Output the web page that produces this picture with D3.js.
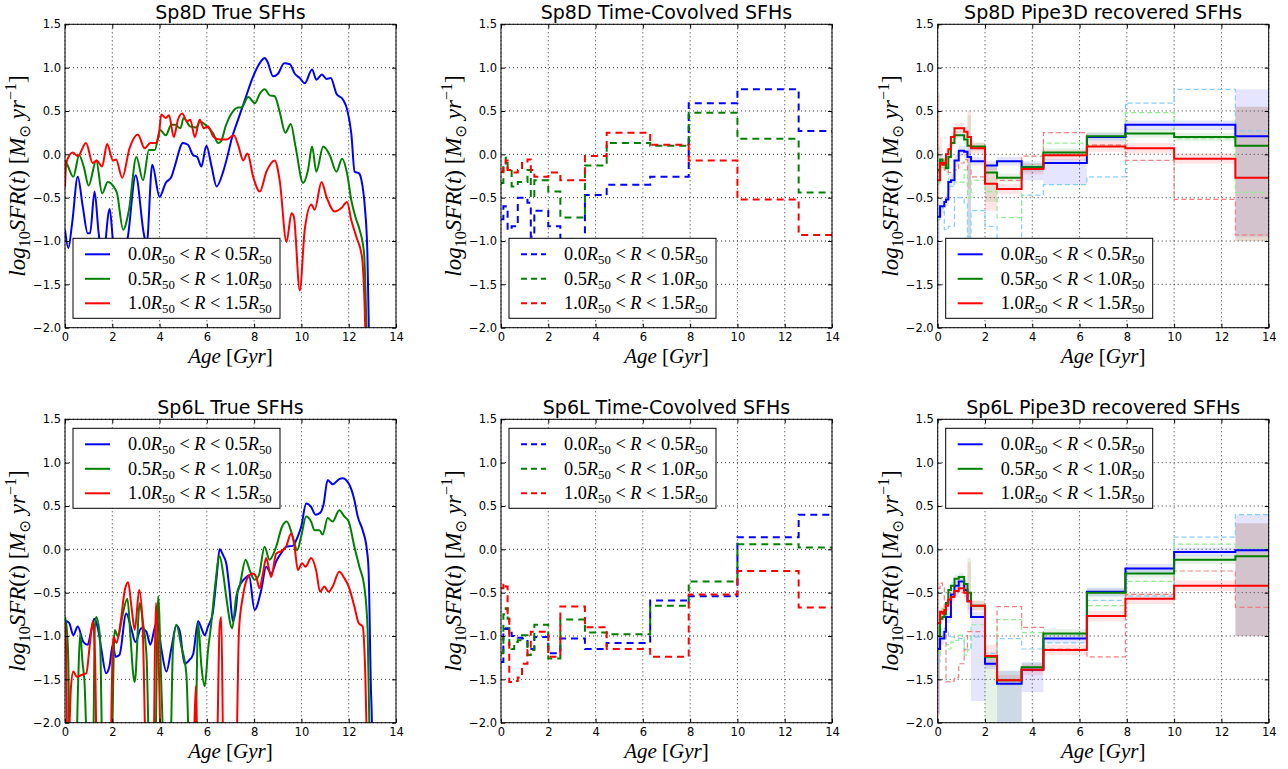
<!DOCTYPE html>
<html>
<head>
<meta charset="utf-8">
<script src="https://cdn.jsdelivr.net/npm/d3@7"></script>
<style>
body { margin: 0; background: #fff; }
text { font-family: "DejaVu Sans", sans-serif; }
.math { font-family: "Liberation Serif", "DejaVu Serif", serif; }
</style>
</head>
<body>
<script>

// ---- true SFHs, [age Gyr, log10 SFR] ----
var sp8dTrueBlue = [[0,-0.87],[0.14,-1.08],[0.3,-0.8],[0.54,-0.26],[0.75,-0.6],[0.96,-0.91],[1.06,-0.91],[1.25,-0.43],[1.42,-0.9],[1.6,-1.2],[1.89,-0.63],[2.03,-1.0],[2.3,-1.35],[2.66,-0.95],[2.99,-0.24],[3.33,-0.91],[3.45,-1.05],[3.69,-0.12],[4.0,-0.49],[4.26,-0.33],[4.5,-0.26],[4.64,-0.14],[4.99,0.13],[5.2,0.11],[5.42,-0.01],[5.59,-0.03],[5.77,-0.14],[5.98,0.10],[6.2,-0.14],[6.41,-0.37],[6.69,-0.2],[6.9,0.01],[7.05,0.18],[7.32,0.40],[7.61,0.63],[7.96,0.90],[8.28,1.07],[8.45,1.11],[8.56,1.07],[8.8,0.90],[9.01,0.93],[9.27,1.05],[9.51,1.04],[9.72,0.93],[9.93,0.88],[10.14,0.82],[10.45,0.98],[10.63,0.86],[10.87,0.92],[11.06,0.87],[11.24,0.88],[11.48,0.70],[11.76,0.63],[11.94,0.51],[12.11,0.24],[12.25,-0.2],[12.44,-0.22],[12.54,-0.3],[12.68,-0.6],[12.79,-1.14],[12.85,-2.0],[12.9,-2.6]];
var sp8dTrueGreen = [[0,-0.07],[0.1,-0.12],[0.35,-0.26],[0.6,-0.01],[0.8,-0.15],[1.0,-0.36],[1.32,-0.07],[1.57,-0.45],[1.81,-0.32],[2.05,-0.37],[2.2,-0.45],[2.46,-0.87],[2.7,-0.65],[3.02,-0.03],[3.3,-0.3],[3.55,0.05],[3.8,0.05],[4.02,0.28],[4.26,0.22],[4.5,0.34],[4.66,0.34],[4.88,0.3],[5.02,0.42],[5.3,0.32],[5.56,0.31],[5.7,0.38],[5.98,0.33],[6.27,0.24],[6.48,0.13],[6.6,0.15],[6.8,0.33],[7.04,0.47],[7.32,0.54],[7.46,0.54],[7.75,0.66],[8.03,0.59],[8.24,0.70],[8.45,0.75],[8.66,0.68],[8.87,0.67],[9.08,0.49],[9.32,0.25],[9.55,0.35],[9.75,0.09],[10.07,-0.33],[10.28,-0.18],[10.45,0.09],[10.63,-0.2],[10.92,0.09],[11.2,-0.01],[11.48,-0.2],[11.72,-0.05],[11.93,-0.22],[12.11,-0.53],[12.28,-0.72],[12.46,-0.87],[12.65,-1.14],[12.75,-2.0],[12.8,-2.6]];
var sp8dTrueRed = [[0,-0.38],[0.05,-0.1],[0.33,0.02],[0.54,-0.02],[0.89,0.13],[1.17,-0.1],[1.34,-0.07],[1.57,-0.14],[1.78,0.12],[2.03,-0.07],[2.16,-0.06],[2.42,-0.27],[2.73,0.07],[3.08,0.23],[3.37,0.07],[3.61,0.13],[3.83,0.13],[3.97,0.22],[4.07,0.46],[4.26,0.42],[4.4,0.45],[4.6,0.20],[4.78,0.40],[4.96,0.47],[5.16,0.38],[5.3,0.40],[5.49,0.20],[5.7,0.40],[5.87,0.30],[6.05,0.32],[6.29,0.20],[6.55,0.17],[6.83,0.17],[7.14,0.22],[7.32,0.11],[7.54,-0.07],[7.72,0.01],[7.96,-0.26],[8.24,-0.43],[8.52,-0.2],[8.87,-0.07],[9.08,-0.3],[9.37,-1.01],[9.58,-0.68],[9.68,-0.72],[9.93,-1.57],[10.14,-0.87],[10.42,-0.58],[10.56,-0.64],[10.85,-0.32],[11.06,-0.49],[11.41,-0.66],[11.69,-0.62],[11.93,-0.55],[12.11,-0.76],[12.32,-0.95],[12.56,-1.18],[12.7,-2.0],[12.75,-2.6]];

var sp6lTrueBlue = [[0,-0.82],[0.18,-0.85],[0.35,-0.99],[0.54,-0.89],[0.78,-1.07],[0.96,-1.1],[1.1,-0.95],[1.24,-0.8],[1.39,-0.91],[1.53,-1.14],[1.74,-1.43],[1.88,-1.35],[2.02,-1.1],[2.14,-1.24],[2.3,-1.22],[2.59,-0.74],[2.8,-0.91],[2.98,-1.07],[3.22,-0.91],[3.44,-0.95],[3.61,-1.1],[3.79,-0.91],[3.9,-0.83],[4.07,-1.14],[4.29,-1.41],[4.5,-1.14],[4.71,-0.88],[4.85,-0.94],[5.06,-1.32],[5.25,-1.28],[5.42,-1.21],[5.63,-0.83],[5.77,-0.91],[5.91,-0.99],[6.05,-0.89],[6.24,-0.75],[6.41,-0.33],[6.54,0.0],[6.69,-0.07],[6.82,-0.16],[6.96,-0.47],[7.1,-0.83],[7.24,-0.66],[7.31,-0.47],[7.67,-0.32],[7.78,-0.3],[8.02,-0.7],[8.3,-0.47],[8.51,-0.2],[8.72,-0.28],[8.93,-0.14],[9.18,-0.03],[9.35,0.03],[9.63,0.04],[9.85,0.15],[9.99,0.26],[10.2,0.53],[10.41,0.49],[10.59,0.4],[10.79,0.42],[10.93,0.51],[11.11,0.8],[11.32,0.75],[11.6,0.81],[11.74,0.82],[12.0,0.76],[12.24,0.57],[12.38,0.38],[12.59,0.22],[12.77,-0.01],[12.84,-0.24],[12.94,-1.62],[12.98,-2.0],[13.0,-2.6]];
var sp6lTrueGreen = [[0,-0.78],[0.1,-1.0],[0.14,-1.3],[0.21,-2.6],[0.45,-2.6],[0.55,-1.6],[0.64,-0.97],[0.74,-1.3],[0.82,-1.51],[0.98,-2.6],[1.18,-2.6],[1.26,-0.9],[1.32,-0.78],[1.48,-1.01],[1.6,-2.6],[1.95,-2.6],[2.1,-0.93],[2.25,-1.01],[2.39,-0.82],[2.64,-0.57],[2.77,-1.01],[2.88,-1.43],[2.95,-1.53],[3.16,-0.62],[3.3,-0.85],[3.45,-1.24],[3.59,-2.6],[3.8,-2.6],[3.94,-0.54],[4.08,-1.62],[4.22,-2.6],[4.43,-2.6],[4.57,-1.12],[4.71,-0.87],[4.92,-1.12],[5.13,-1.43],[5.3,-2.6],[5.49,-2.6],[5.63,-0.85],[5.77,-1.35],[5.91,-1.58],[6.05,-1.16],[6.19,-0.85],[6.33,-0.47],[6.54,-0.08],[6.68,-0.26],[6.82,-0.55],[7.07,-0.91],[7.24,-0.55],[7.38,-0.43],[7.64,-0.12],[7.81,-0.24],[8.02,-0.35],[8.2,-0.3],[8.44,0.03],[8.65,-0.12],[8.93,0.03],[9.18,0.26],[9.38,0.32],[9.63,0.15],[9.82,-0.01],[9.99,0.15],[10.2,0.38],[10.41,0.32],[10.55,0.22],[10.76,0.22],[10.9,0.17],[11.11,0.36],[11.32,0.32],[11.6,0.45],[11.81,0.38],[12.0,0.32],[12.24,0.03],[12.45,-0.2],[12.66,-0.43],[12.8,-0.93],[12.87,-2.0],[12.9,-2.6]];
var sp6lTrueRed = [[0,-0.85],[0.05,-1.2],[0.11,-2.6],[0.25,-1.6],[0.35,-1.41],[0.5,-1.47],[0.7,-1.45],[0.9,-1.43],[1.05,-1.1],[1.18,-0.83],[1.27,-1.24],[1.36,-2.6],[1.9,-2.6],[2.04,-1.01],[2.18,-1.08],[2.35,-0.85],[2.53,-0.47],[2.67,-0.38],[2.81,-0.66],[2.95,-0.93],[3.14,-0.47],[3.28,-0.85],[3.45,-2.6],[3.73,-2.6],[3.84,-0.62],[3.98,-1.47],[4.08,-2.6],[5.41,-2.6],[5.53,-1.58],[5.63,-2.6],[6.4,-2.6],[6.54,-0.89],[6.61,-0.78],[6.71,-2.6],[7.22,-2.6],[7.36,-0.93],[7.52,-0.55],[7.74,-0.32],[7.95,-0.28],[8.09,-0.32],[8.23,-0.45],[8.37,-0.28],[8.51,-0.1],[8.72,-0.32],[8.93,-0.05],[9.21,-0.01],[9.35,0.03],[9.56,0.18],[9.7,0.05],[9.85,-0.24],[10.03,-0.16],[10.17,-0.2],[10.41,-0.1],[10.62,-0.24],[10.79,-0.49],[10.97,-0.43],[11.15,-0.49],[11.32,-0.43],[11.6,-0.26],[11.81,-0.33],[12.0,-0.43],[12.24,-0.66],[12.42,-0.85],[12.59,-0.89],[12.7,-1.43],[12.8,-2.6]];

// ---- age bin edges (Gyr) for the binned SFHs ----
var binEdges = [0, 0.1, 0.2, 0.28, 0.35, 0.45, 0.56, 0.71, 0.89, 1.12, 1.26, 1.41, 2.0, 2.51, 3.55, 4.47, 6.31, 7.94, 10.0, 12.59, 14.0];

// ---- time-convolved SFHs, one value per bin ----
var sp8dConvBlue  = [-0.75,-0.6,-0.62,-0.87,-0.87,-0.83,-0.83,-0.5,-0.5,-0.56,-0.95,-0.65,-0.83,-0.98,-0.47,-0.35,-0.26,0.59,0.75,0.27];
var sp8dConvGreen = [-0.33,-0.15,-0.04,-0.18,-0.18,-0.37,-0.37,-0.32,-0.32,-0.18,-0.5,-0.3,-0.43,-0.73,-0.13,0.13,0.1,0.48,0.18,-0.44];
var sp8dConvRed   = [-0.2,-0.12,-0.07,-0.18,-0.18,-0.21,-0.21,-0.18,-0.1,-0.06,-0.18,-0.26,-0.21,-0.3,-0.02,0.25,0.11,-0.07,-0.52,-0.93];
var sp6lConvBlue  = [-1.3,-0.92,-0.91,-0.92,-0.93,-1.0,-1.01,-1.02,-1.03,-1.15,-1.15,-1.01,-1.2,-1.03,-1.15,-1.08,-0.59,-0.54,0.14,0.4];
var sp6lConvGreen = [-1.2,-0.75,-0.68,-0.8,-1.1,-1.15,-1.07,-1.05,-0.99,-1.22,-1.16,-0.87,-1.26,-0.81,-0.96,-0.98,-0.65,-0.37,0.06,0.02];
var sp6lConvRed   = [-0.45,-0.39,-0.43,-0.78,-1.53,-1.53,-1.52,-1.48,-1.32,-1.16,-0.95,-0.95,-1.24,-0.66,-0.9,-1.15,-1.24,-0.52,-0.25,-0.67];

// ---- Pipe3D recovered SFHs, value + band per bin ----
var sp8dRecBlue     = [-0.72,-0.6,-0.6,-0.55,-0.52,-0.32,-0.3,-0.07,0.04,0.03,-0.03,-0.08,-0.13,-0.08,-0.15,-0.1,0.2,0.34,0.34,0.21];
var sp8dRecBlueLo   = [-1.55,-0.72,-0.68,-0.62,-0.6,-0.42,-0.38,-0.15,-0.02,-0.05,-1.0,-0.13,-0.18,-0.13,-0.3,-0.35,0.15,0.28,0.28,-0.95];
var sp8dRecBlueHi   = [-0.55,-0.5,-0.52,-0.48,-0.45,-0.25,-0.22,0.0,0.1,0.1,0.05,-0.03,-0.08,-0.03,-0.08,-0.05,0.25,0.39,0.39,0.75];
var sp8dRecGreen    = [-0.18,-0.06,-0.1,-0.1,-0.16,-0.03,0.13,0.22,0.22,0.17,0.1,0.09,-0.21,-0.27,-0.15,0.02,0.21,0.24,0.2,0.1];
var sp8dRecGreenLo  = [-0.35,-0.11,-0.15,-0.15,-0.21,-0.08,0.08,0.17,0.17,0.12,-1.0,0.04,-0.55,-0.32,-0.2,-0.03,0.16,0.19,0.15,-1.0];
var sp8dRecGreenHi  = [0.1,-0.01,-0.05,-0.05,-0.11,0.02,0.18,0.27,0.27,0.22,0.45,0.14,-0.12,-0.22,-0.1,0.07,0.26,0.29,0.25,0.55];
var sp8dRecRed      = [-0.3,-0.1,-0.12,-0.1,0.0,0.06,0.2,0.3,0.3,0.26,0.2,0.07,-0.34,-0.4,-0.17,-0.01,0.09,0.07,-0.05,-0.27];
var sp8dRecRedLo    = [-0.5,-0.16,-0.18,-0.16,-0.06,0.0,0.14,0.24,0.24,0.2,-0.4,0.01,-0.65,-0.46,-0.23,-0.07,0.03,0.01,-0.11,-1.0];
var sp8dRecRedHi    = [0.7,0.2,-0.06,-0.04,0.06,0.12,0.26,0.36,0.36,0.32,0.5,0.13,-0.15,-0.34,-0.11,0.05,0.15,0.13,0.01,0.55];

var sp6lRecBlue     = [-1.15,-1.03,-1.03,-0.95,-0.78,-0.78,-0.52,-0.42,-0.37,-0.47,-0.6,-0.78,-1.32,-1.55,-1.39,-1.03,-0.49,-0.22,-0.03,-0.01];
var sp6lRecBlueLo   = [-1.9,-1.1,-1.1,-1.0,-0.85,-0.85,-0.58,-0.48,-0.43,-0.55,-0.7,-1.75,-1.38,-2.0,-1.65,-1.08,-0.54,-0.27,-0.08,-1.0];
var sp6lRecBlueHi   = [-0.9,-0.95,-0.95,-0.88,-0.72,-0.72,-0.45,-0.36,-0.3,-0.4,-0.5,-0.72,-1.25,-1.4,-1.3,-0.97,-0.44,-0.17,0.02,0.4];
var sp6lRecGreen    = [-1.0,-0.8,-0.78,-0.75,-0.62,-0.47,-0.42,-0.34,-0.32,-0.4,-0.5,-0.65,-1.24,-1.51,-1.36,-0.97,-0.5,-0.28,-0.12,-0.08];
var sp6lRecGreenLo  = [-1.5,-0.85,-0.83,-0.8,-0.67,-0.52,-0.47,-0.39,-0.37,-0.45,-0.55,-0.7,-2.0,-2.0,-1.41,-1.02,-0.55,-0.33,-0.17,-1.0];
var sp6lRecGreenHi  = [-0.7,-0.75,-0.73,-0.7,-0.57,-0.42,-0.37,-0.29,-0.27,-0.35,-0.1,-0.6,-1.19,-1.4,-1.31,-0.92,-0.45,-0.23,-0.07,0.3];
var sp6lRecRed      = [-0.85,-0.72,-0.74,-0.7,-0.65,-0.58,-0.55,-0.48,-0.45,-0.5,-0.6,-0.65,-1.23,-1.51,-1.39,-1.16,-0.77,-0.57,-0.42,-0.42];
var sp6lRecRedLo    = [-1.9,-0.78,-0.8,-0.76,-0.71,-0.64,-0.61,-0.54,-0.51,-0.56,-0.75,-0.71,-1.35,-1.57,-1.45,-1.22,-0.83,-0.63,-0.48,-1.0];
var sp6lRecRedHi    = [-0.37,-0.66,-0.68,-0.64,-0.59,-0.52,-0.49,-0.42,-0.39,-0.44,-0.15,-0.59,-1.1,-1.45,-1.33,-1.1,-0.71,-0.51,-0.36,0.3];

var xTicks = [0,2,4,6,8,10,12,14];
var yTicks = [-2.0,-1.5,-1.0,-0.5,0.0,0.5,1.0,1.5];
var legendRanges = [["0.0","0.5"],["0.5","1.0"],["1.0","1.5"]];

var w = 1288, h = 769;
var colX = [65, 501, 937.7];
var rowY = [24.3, 419.3];
var pw = 331, ph = 303.4;
var cols = ["#0000ff", "#008000", "#ff0000"];
var pale = ["#87cefa", "#90ee90", "#f08080"];

var svg = d3.select("body").append("svg")
  .attr("width", w)
  .attr("height", h);
var defs = svg.append("defs");

function panel(col, row, title) {
  var x0 = colX[col], y0 = rowY[row];
  var x = d3.scaleLinear().domain([0, 14]).range([x0, x0 + pw]);
  var y = d3.scaleLinear().domain([-2, 1.5]).range([y0 + ph, y0]);
  var id = "clip" + col + row;
  defs.append("clipPath").attr("id", id).append("rect")
    .attr("x", x0).attr("y", y0).attr("width", pw).attr("height", ph);

  var g = svg.append("g");
  // dotted grid
  g.selectAll(".gx").data(xTicks).enter().append("line")
    .attr("x1", d => x(d)).attr("x2", d => x(d))
    .attr("y1", y0).attr("y2", y0 + ph)
    .attr("stroke", "#000").attr("stroke-width", 1).attr("stroke-dasharray", "1,3").attr("opacity", 0.8);
  g.selectAll(".gy").data(yTicks).enter().append("line")
    .attr("y1", d => y(d)).attr("y2", d => y(d))
    .attr("x1", x0).attr("x2", x0 + pw)
    .attr("stroke", "#000").attr("stroke-width", 1).attr("stroke-dasharray", "1,3").attr("opacity", 0.8);

  var plot = svg.append("g").attr("clip-path", "url(#" + id + ")");
  var front = svg.append("g");

  // axes with inward ticks on every side
  var fmtY = d3.format(".1f");
  var ax = [
    [d3.axisBottom(x).tickValues(xTicks).tickSize(-4).tickPadding(5), "translate(0," + (y0 + ph) + ")"],
    [d3.axisTop(x).tickValues(xTicks).tickSize(-4).tickFormat(""), "translate(0," + y0 + ")"],
    [d3.axisLeft(y).tickValues(yTicks).tickSize(-4).tickPadding(4).tickFormat(fmtY), "translate(" + x0 + ",0)"],
    [d3.axisRight(y).tickValues(yTicks).tickSize(-4).tickFormat(""), "translate(" + (x0 + pw) + ",0)"]
  ];
  ax.forEach(function (a) {
    var ag = front.append("g").attr("transform", a[1]).call(a[0]);
    ag.select(".domain").remove();
    ag.selectAll("text").attr("font-size", 11.5).attr("fill", "#000")
      .style("font-family", "'DejaVu Sans', sans-serif");
  });
  front.append("rect").attr("x", x0).attr("y", y0).attr("width", pw).attr("height", ph)
    .attr("fill", "none").attr("stroke", "#000").attr("stroke-width", 1);

  front.append("text").attr("x", x0 + pw / 2).attr("y", y0 - 5)
    .attr("text-anchor", "middle").attr("font-size", 19).text(title);

  // x label
  var xl = front.append("text").attr("class", "math").attr("x", x0 + pw / 2).attr("y", y0 + ph + 35)
    .attr("text-anchor", "middle").attr("font-size", 21);
  xl.append("tspan").attr("font-style", "italic").text("Age ");
  xl.append("tspan").text("[");
  xl.append("tspan").attr("font-style", "italic").text("Gyr");
  xl.append("tspan").text("]");

  // y label
  var yl = front.append("text").attr("class", "math")
    .attr("transform", "translate(" + (x0 - 40) + "," + (y0 + ph / 2) + ") rotate(-90)")
    .attr("text-anchor", "middle").attr("font-size", 23);
  yl.append("tspan").attr("font-style", "italic").text("log");
  yl.append("tspan").attr("font-size", 16).attr("dy", 5).text("10");
  yl.append("tspan").attr("font-style", "italic").attr("dy", -5).text("SFR");
  yl.append("tspan").text("(");
  yl.append("tspan").attr("font-style", "italic").text("t");
  yl.append("tspan").text(") [");
  yl.append("tspan").attr("font-style", "italic").text("M");
  yl.append("tspan").attr("font-size", 15).attr("dy", 5).style("font-family", "'DejaVu Sans'").text("\u2299");
  yl.append("tspan").attr("font-style", "italic").attr("dy", -5).text(" yr");
  yl.append("tspan").attr("font-size", 16).attr("dy", -9).text("\u22121");
  yl.append("tspan").attr("dy", 9).text("]");

  return { x: x, y: y, plot: plot, front: front, x0: x0, y0: y0 };
}

function legend(p, top, dashed) {
  var lx = p.x0 + 8, ly = p.y0 + top;
  var lg = p.front.append("g");
  lg.append("rect").attr("x", lx).attr("y", ly).attr("width", 207).attr("height", 80)
    .attr("fill", "#fff").attr("stroke", "#000").attr("stroke-width", 1);
  legendRanges.forEach(function (r, i) {
    var yy = ly + 16 + i * 24.5;
    lg.append("line").attr("x1", lx + 12).attr("x2", lx + 37).attr("y1", yy).attr("y2", yy)
      .attr("stroke", cols[i]).attr("stroke-width", 2)
      .attr("stroke-dasharray", dashed ? "6,4" : null);
    var t = lg.append("text").attr("class", "math").attr("x", lx + 55).attr("y", yy + 6).attr("font-size", 18.3);
    t.append("tspan").text(r[0]);
    t.append("tspan").attr("font-style", "italic").text("R");
    t.append("tspan").attr("font-size", 12.8).attr("dy", 4).text("50");
    t.append("tspan").attr("dy", -4).text(" < ");
    t.append("tspan").attr("font-style", "italic").text("R");
    t.append("tspan").text(" < " + r[1]);
    t.append("tspan").attr("font-style", "italic").text("R");
    t.append("tspan").attr("font-size", 12.8).attr("dy", 4).text("50");
  });
}

function drawTrue(p, series) {
  var line = d3.line().x(d => p.x(d[0])).y(d => p.y(d[1])).curve(d3.curveMonotoneX);
  series.forEach(function (s, i) {
    p.plot.append("path").datum(s).attr("d", line)
      .attr("fill", "none").attr("stroke", cols[i]).attr("stroke-width", 2);
  });
}

function stepPts(vals) {
  return binEdges.map((e, i) => [e, vals[Math.min(i, vals.length - 1)]]);
}

function drawSteps(p, series, colorSet, width, dash) {
  var line = d3.line().x(d => p.x(d[0])).y(d => p.y(d[1])).curve(d3.curveStepAfter);
  series.forEach(function (s, i) {
    p.plot.append("path").datum(stepPts(s)).attr("d", line)
      .attr("fill", "none").attr("stroke", colorSet[i]).attr("stroke-width", width)
      .attr("stroke-dasharray", dash);
  });
}

function drawBands(p, los, his) {
  var area = d3.area().x(d => p.x(d[0])).y0(d => p.y(d[1])).y1(d => p.y(d[2])).curve(d3.curveStepAfter);
  los.forEach(function (lo, i) {
    var pts = binEdges.map((e, k) => { var j = Math.min(k, lo.length - 1); return [e, lo[j], his[i][j]]; });
    p.plot.append("path").datum(pts).attr("d", area)
      .attr("fill", cols[i]).attr("fill-opacity", 0.1).attr("stroke", "none");
  });
}

// ---- top row: Sp8D ----
var a = panel(0, 0, "Sp8D True SFHs");
drawTrue(a, [sp8dTrueBlue, sp8dTrueGreen, sp8dTrueRed]);
legend(a, 214, false);

var b = panel(1, 0, "Sp8D Time-Covolved SFHs");
drawSteps(b, [sp8dConvBlue, sp8dConvGreen, sp8dConvRed], cols, 2, "7,5");
legend(b, 214, true);

var c = panel(2, 0, "Sp8D Pipe3D recovered SFHs");
drawBands(c, [sp8dRecBlueLo, sp8dRecGreenLo, sp8dRecRedLo], [sp8dRecBlueHi, sp8dRecGreenHi, sp8dRecRedHi]);
drawSteps(c, [sp8dConvBlue, sp8dConvGreen, sp8dConvRed], pale, 1.2, "5,3");
drawSteps(c, [sp8dRecBlue, sp8dRecGreen, sp8dRecRed], cols, 2, null);
legend(c, 214, false);

// ---- bottom row: Sp6L ----
var d = panel(0, 1, "Sp6L True SFHs");
drawTrue(d, [sp6lTrueBlue, sp6lTrueGreen, sp6lTrueRed]);
legend(d, 9, false);

var e = panel(1, 1, "Sp6L Time-Covolved SFHs");
drawSteps(e, [sp6lConvBlue, sp6lConvGreen, sp6lConvRed], cols, 2, "7,5");
legend(e, 9, true);

var f = panel(2, 1, "Sp6L Pipe3D recovered SFHs");
drawBands(f, [sp6lRecBlueLo, sp6lRecGreenLo, sp6lRecRedLo], [sp6lRecBlueHi, sp6lRecGreenHi, sp6lRecRedHi]);
drawSteps(f, [sp6lConvBlue, sp6lConvGreen, sp6lConvRed], pale, 1.2, "5,3");
drawSteps(f, [sp6lRecBlue, sp6lRecGreen, sp6lRecRed], cols, 2, null);
legend(f, 9, false);

</script>
</body>
</html>
